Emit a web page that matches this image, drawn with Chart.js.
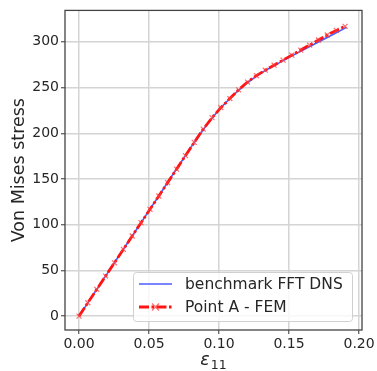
<!DOCTYPE html>
<html>
<head>
<meta charset="utf-8">
<script src="https://cdn.jsdelivr.net/npm/chart.js@4.4.1/dist/chart.umd.min.js"></script>
<style>
  html, body { margin: 0; padding: 0; background: #ffffff; }
  #wrap { width: 377px; height: 371px; }
</style>
</head>
<body>
<div id="wrap"><canvas id="c" width="377" height="371"></canvas></div>
<script>
// Stress-strain response: FFT reference solution and FEM result at point A
const fftStrain = [0, 0.01, 0.02, 0.03, 0.04, 0.05, 0.06, 0.07, 0.08, 0.09, 0.10,
                   0.11, 0.12, 0.13, 0.14, 0.15, 0.16, 0.17, 0.18, 0.191];
const fftStress = [0, 23.0, 46.2, 69.3, 92.3, 115.4, 138.5, 161.8, 184.8, 206.5, 226.0,
                   241.5, 255.0, 266.0, 274.5, 283.0, 291.0, 299.0, 307.0, 315.8];

const femStrain = [0, 0.0063, 0.0127, 0.019, 0.0253, 0.0317, 0.038, 0.0443, 0.0507, 0.057,
                   0.0633, 0.0697, 0.076, 0.0823, 0.0887, 0.095, 0.1013, 0.1077, 0.114, 0.1203,
                   0.1267, 0.133, 0.1393, 0.1457, 0.152, 0.1583, 0.1647, 0.171, 0.1773, 0.1837, 0.19];
const femStress = [0, 14.6, 29.3, 43.8, 58.3, 73.0, 87.6, 102.2, 116.8, 131.4,
                   146.0, 160.8, 175.5, 190.0, 204.5, 217.0, 228.0, 238.0, 247.5, 256.0,
                   263.0, 269.0, 274.5, 280.0, 285.5, 291.0, 296.5, 302.0, 307.5, 312.5, 317.0];

const xTicks = [0, 0.05, 0.10, 0.15, 0.20];
const yTicks = [0, 50, 100, 150, 200, 250, 300];
const seriesLabels = ['benchmark FFT DNS', 'Point A - FEM'];
const xTitleMain = 'ε';
const xTitleSub = '11';
const yTitle = 'Von Mises stress';

const FONT = 'DejaVu Sans';
const TEXT = '#262626';
const FEM_DASH = [10, 2.5, 2.5, 2.5];

const toPoints = (xs, ys) => xs.map((x, i) => ({ x: x, y: ys[i] }));

// frame around the plotting area
const framePlugin = {
  id: 'frame',
  afterDatasetsDraw(chart) {
    const a = chart.chartArea, ctx = chart.ctx;
    ctx.save();
    ctx.strokeStyle = '#444444';
    ctx.lineWidth = 1.3;
    ctx.strokeRect(a.left, a.top, a.right - a.left, a.bottom - a.top);
    ctx.restore();
  }
};

// axis titles (x title uses a subscript)
const titlesPlugin = {
  id: 'titles',
  afterDraw(chart) {
    const a = chart.chartArea, ctx = chart.ctx;
    ctx.save();
    ctx.fillStyle = TEXT;
    ctx.translate(19, (a.top + a.bottom) / 2);
    ctx.rotate(-Math.PI / 2);
    ctx.font = '17.5px "' + FONT + '"';
    ctx.textAlign = 'center';
    ctx.textBaseline = 'middle';
    ctx.fillText(yTitle, 0, 0);
    ctx.restore();

    ctx.save();
    ctx.fillStyle = TEXT;
    ctx.textBaseline = 'alphabetic';
    ctx.textAlign = 'left';
    const mainFont = 'italic 17.5px "' + FONT + '"';
    const subFont = '12.5px "' + FONT + '"';
    ctx.font = mainFont;
    const wMain = ctx.measureText(xTitleMain).width;
    ctx.font = subFont;
    const wSub = ctx.measureText(xTitleSub).width;
    const cx = (a.left + a.right) / 2;
    const x0 = cx - (wMain + wSub + 1) / 2;
    ctx.font = mainFont;
    ctx.fillText(xTitleMain, x0, 365);
    ctx.font = subFont;
    ctx.fillText(xTitleSub, x0 + wMain + 1, 369);
    ctx.restore();
  }
};

// legend box in the lower right of the plotting area
const legendPlugin = {
  id: 'boxLegend',
  afterDraw(chart) {
    const ctx = chart.ctx;
    const ds = chart.data.datasets;
    const bx = 133.5, by = 272.5, bw = 219, bh = 49, r = 3;
    ctx.save();
    ctx.beginPath();
    ctx.moveTo(bx + r, by);
    ctx.lineTo(bx + bw - r, by);
    ctx.quadraticCurveTo(bx + bw, by, bx + bw, by + r);
    ctx.lineTo(bx + bw, by + bh - r);
    ctx.quadraticCurveTo(bx + bw, by + bh, bx + bw - r, by + bh);
    ctx.lineTo(bx + r, by + bh);
    ctx.quadraticCurveTo(bx, by + bh, bx, by + bh - r);
    ctx.lineTo(bx, by + r);
    ctx.quadraticCurveTo(bx, by, bx + r, by);
    ctx.closePath();
    ctx.fillStyle = 'rgba(255,255,255,0.8)';
    ctx.fill();
    ctx.strokeStyle = '#d0d0d0';
    ctx.lineWidth = 1;
    ctx.stroke();

    const rows = [284, 307];
    ds.forEach((d, i) => {
      const y = rows[i];
      ctx.save();
      ctx.strokeStyle = d.borderColor;
      ctx.lineWidth = d.borderWidth;
      ctx.setLineDash(d.borderDash || []);
      ctx.beginPath();
      ctx.moveTo(139, y);
      ctx.lineTo(172, y);
      ctx.stroke();
      ctx.setLineDash([]);
      if (d.pointRadius > 0) {
        const m = d.pointRadius, mx = 155.5;
        ctx.strokeStyle = d.pointBorderColor;
        ctx.lineWidth = d.pointBorderWidth;
        ctx.beginPath();
        ctx.moveTo(mx - m, y - m); ctx.lineTo(mx + m, y + m);
        ctx.moveTo(mx - m, y + m); ctx.lineTo(mx + m, y - m);
        ctx.stroke();
      }
      ctx.restore();
      ctx.fillStyle = TEXT;
      ctx.font = '15.5px "' + FONT + '"';
      ctx.textAlign = 'left';
      ctx.textBaseline = 'middle';
      ctx.fillText(d.label, 185, y + 0.5);
    });
    ctx.restore();
  }
};

const gridCfg = {
  color: '#d4d4d4',
  lineWidth: 1.5,
  tickLength: 4,
  tickColor: '#444444',
  tickWidth: 1.1,
  drawTicks: true
};

new Chart(document.getElementById('c'), {
  type: 'scatter',
  data: {
    datasets: [
      {
        label: seriesLabels[0],
        data: toPoints(fftStrain, fftStress),
        showLine: true,
        borderColor: '#4d5cff',
        borderWidth: 1.6,
        pointRadius: 0,
        pointHoverRadius: 0,
        order: 1
      },
      {
        label: seriesLabels[1],
        data: toPoints(femStrain, femStress),
        showLine: true,
        borderColor: '#ff1414',
        borderWidth: 2.8,
        borderDash: FEM_DASH,
        pointStyle: 'crossRot',
        pointRadius: 3.5,
        pointBorderColor: 'rgba(255,60,60,0.75)',
        pointBorderWidth: 1.2,
        pointBackgroundColor: 'rgba(255,0,0,0)',
        order: 0
      }
    ]
  },
  options: {
    responsive: false,
    animation: false,
    devicePixelRatio: 1,
    layout: { padding: { left: 0, right: 15, top: 8, bottom: 0 } },
    plugins: {
      legend: { display: false },
      tooltip: { enabled: false },
      title: { display: false }
    },
    scales: {
      x: {
        type: 'linear',
        min: -0.0100,
        max: 0.2021,
        afterBuildTicks: s => { s.ticks = xTicks.map(v => ({ value: v })); },
        afterFit: s => { s.height = 41; },
        ticks: {
          autoSkip: false,
          maxRotation: 0,
          padding: 2,
          color: TEXT,
          font: { family: FONT, size: 14 },
          callback: v => Number(v).toFixed(2)
        },
        grid: gridCfg,
        border: { display: false }
      },
      y: {
        type: 'linear',
        min: -15.2,
        max: 334.4,
        afterBuildTicks: s => { s.ticks = yTicks.map(v => ({ value: v })); },
        afterFit: s => { s.width = 65; },
        ticks: {
          autoSkip: false,
          padding: 2,
          color: TEXT,
          font: { family: FONT, size: 14 },
          callback: v => String(v)
        },
        grid: gridCfg,
        border: { display: false }
      }
    }
  },
  plugins: [framePlugin, titlesPlugin, legendPlugin]
});
</script>
</body>
</html>
